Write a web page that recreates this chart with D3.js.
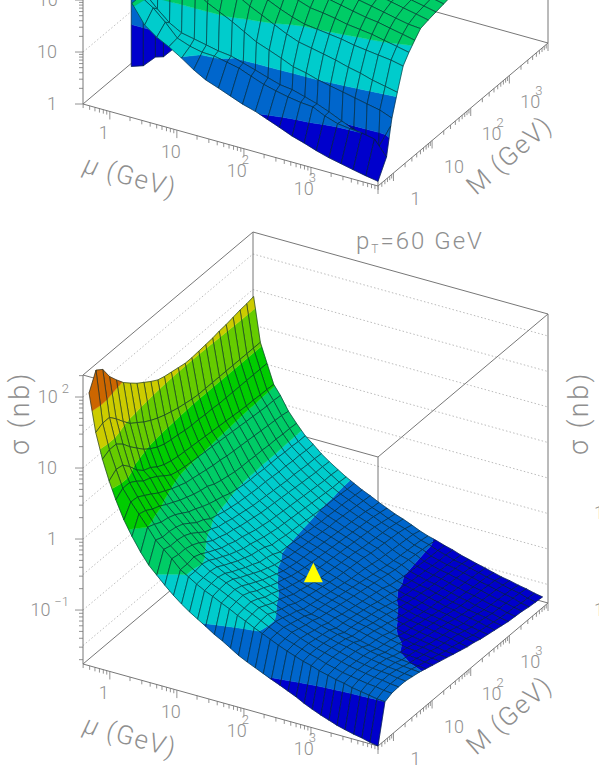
<!DOCTYPE html>
<html>
<head>
<meta charset="utf-8">
<script src="https://cdn.jsdelivr.net/npm/d3@7"></script>
<style>
  html, body { margin: 0; padding: 0; background: #fff; overflow: hidden; }
  text { font-family: Roboto, "Liberation Sans", sans-serif; font-weight: 300; fill: #8f8f8f; }
</style>
</head>
<body>
<div id="viz"></div>
<script>

// band colours, lowest level first
const bandColors = ["#0000cc", "#0066cc", "#00cccc", "#00cc66", "#00cc00", "#66cc00", "#cccc00", "#cc6600"]

// log10 of the axis ranges
const logAxisRange = [-0.4, 4]
const decades = [0, 1, 2, 3]

// lower panel, pT = 60 GeV
const sigmaRange60 = [-1.76, 2.31]
const levels60 = [-1.22, -0.72, -0.21, 0.31, 0.82, 1.33, 1.84]
const dotted60 = [-1.5, -1, -0.5, 0, 0.5, 1, 1.5, 2]
const sigmaExps60 = [-1, 0, 1, 2]
const logMu60 = [-0.31, -0.21, -0.11, -0.01, 0.09, 0.21, 0.33, 0.46, 0.58, 0.70, 0.82, 0.95, 1.07, 1.19, 1.31, 1.43, 1.56, 1.68, 1.80, 1.92, 2.05, 2.17, 2.29, 2.41, 2.54, 2.66, 2.78, 2.90, 3.02, 3.15, 3.27, 3.39, 3.51, 3.64, 3.76, 3.88, 4.0]
const logM60 = [-0.4, -0.22, -0.045, 0.13, 0.31, 0.49, 0.67, 0.84, 1.02, 1.2, 1.38, 1.55, 1.73, 1.91, 2.09, 2.26, 2.44, 2.62, 2.8, 2.97, 3.15, 3.33, 3.51, 3.68, 3.86]
// log10 sigma, one row per M, one column per mu
const logSigma60 = [
  [2.08,1.55,1.20,.92,.68,.43,.23,.04,-.11,-.22,-.33,-.44,-.53,-.61,-.68,-.75,-.83,-.89,-.96,-1.03,-1.09,-1.14,-1.19,-1.24,-1.29,-1.34,-1.39,-1.45,-1.50,-1.55,-1.59,-1.63,-1.66,-1.69,-1.71,-1.74,-1.76],
  [2.32,1.60,1.25,1.00,.76,.60,.46,.31,.16,.06,-.04,-.16,-.23,-.30,-.36,-.41,-.47,-.52,-.58,-.63,-.69,-.74,-.79,-.84,-.89,-.93,-.97,-1.00,-1.04,-1.07,-1.10,-1.12,-1.15,-1.17,-1.19,-1.21,-1.22],
  [2.25,1.60,1.25,.98,.76,.59,.43,.27,.12,.03,-.06,-.16,-.23,-.29,-.34,-.39,-.45,-.50,-.56,-.61,-.67,-.73,-.78,-.83,-.87,-.91,-.95,-.98,-1.02,-1.05,-1.08,-1.10,-1.12,-1.14,-1.15,-1.17,-1.18],
  [2.07,1.50,1.17,.88,.70,.53,.37,.22,.12,.03,-.06,-.14,-.21,-.28,-.33,-.38,-.44,-.49,-.55,-.60,-.66,-.73,-.78,-.82,-.87,-.91,-.95,-.98,-1.01,-1.04,-1.07,-1.09,-1.11,-1.13,-1.14,-1.16,-1.17],
  [1.94,1.38,1.05,.75,.62,.47,.33,.20,.10,.01,-.09,-.18,-.24,-.30,-.36,-.41,-.47,-.53,-.59,-.65,-.71,-.76,-.81,-.85,-.89,-.93,-.96,-.99,-1.02,-1.05,-1.08,-1.10,-1.12,-1.13,-1.14,-1.16,-1.17],
  [1.82,1.27,.95,.66,.58,.40,.27,.16,.06,-.04,-.14,-.24,-.30,-.36,-.42,-.47,-.53,-.59,-.65,-.70,-.75,-.80,-.84,-.88,-.92,-.95,-.98,-1.01,-1.03,-1.06,-1.09,-1.11,-1.13,-1.15,-1.16,-1.18,-1.19],
  [1.73,1.20,.85,.62,.52,.35,.22,.10,-.01,-.11,-.21,-.29,-.35,-.41,-.47,-.52,-.58,-.63,-.68,-.73,-.78,-.83,-.87,-.90,-.94,-.97,-1.00,-1.03,-1.05,-1.08,-1.11,-1.13,-1.15,-1.17,-1.19,-1.20,-1.21],
  [1.65,1.13,.78,.55,.45,.30,.17,.04,-.08,-.18,-.27,-.34,-.40,-.46,-.52,-.57,-.63,-.68,-.72,-.77,-.83,-.88,-.92,-.94,-.98,-1.02,-1.05,-1.07,-1.10,-1.13,-1.15,-1.17,-1.19,-1.21,-1.22,-1.23,-1.24],
  [1.58,1.07,.72,.50,.38,.26,.13,0,-.12,-.22,-.30,-.37,-.44,-.50,-.56,-.62,-.67,-.72,-.77,-.82,-.86,-.90,-.93,-.96,-.99,-1.03,-1.06,-1.08,-1.11,-1.14,-1.17,-1.19,-1.22,-1.23,-1.24,-1.26,-1.27],
  [1.51,1.02,.68,.47,.35,.22,.09,-.05,-.19,-.27,-.34,-.41,-.48,-.54,-.61,-.66,-.71,-.75,-.80,-.84,-.88,-.92,-.95,-.98,-1.02,-1.05,-1.08,-1.10,-1.13,-1.16,-1.19,-1.21,-1.24,-1.25,-1.27,-1.29,-1.30],
  [1.45,.98,.66,.45,.33,.20,.06,-.09,-.22,-.29,-.36,-.43,-.50,-.56,-.63,-.70,-.75,-.79,-.83,-.87,-.90,-.94,-.97,-1.00,-1.04,-1.07,-1.10,-1.13,-1.16,-1.20,-1.22,-1.24,-1.27,-1.28,-1.30,-1.32,-1.33],
  [1.42,.95,.65,.44,.32,.18,.04,-.12,-.25,-.32,-.39,-.46,-.53,-.59,-.66,-.72,-.77,-.81,-.85,-.89,-.92,-.96,-.99,-1.02,-1.06,-1.09,-1.12,-1.15,-1.18,-1.22,-1.25,-1.27,-1.29,-1.31,-1.33,-1.35,-1.36],
  [1.40,.92,.63,.43,.31,.16,-.01,-.15,-.27,-.34,-.41,-.49,-.56,-.64,-.71,-.75,-.79,-.83,-.87,-.91,-.94,-.98,-1.01,-1.04,-1.08,-1.11,-1.14,-1.17,-1.21,-1.24,-1.27,-1.29,-1.31,-1.33,-1.35,-1.37,-1.39],
  [1.38,.90,.62,.42,.30,.14,-.04,-.19,-.29,-.36,-.43,-.51,-.58,-.65,-.72,-.76,-.80,-.84,-.88,-.92,-.96,-1.00,-1.03,-1.06,-1.10,-1.14,-1.17,-1.20,-1.24,-1.27,-1.29,-1.31,-1.33,-1.35,-1.37,-1.40,-1.42],
  [1.36,.88,.62,.41,.29,.13,-.06,-.21,-.30,-.38,-.45,-.53,-.60,-.67,-.73,-.77,-.81,-.85,-.89,-.93,-.97,-1.02,-1.05,-1.08,-1.12,-1.16,-1.20,-1.23,-1.26,-1.29,-1.31,-1.33,-1.35,-1.37,-1.39,-1.42,-1.44],
  [1.36,.87,.61,.40,.28,.11,-.08,-.23,-.31,-.39,-.46,-.54,-.61,-.68,-.74,-.78,-.82,-.86,-.90,-.94,-.98,-1.03,-1.07,-1.10,-1.14,-1.18,-1.23,-1.25,-1.28,-1.31,-1.33,-1.35,-1.37,-1.40,-1.42,-1.45,-1.47],
  [1.37,.87,.61,.39,.27,.10,-.09,-.24,-.32,-.40,-.47,-.55,-.62,-.69,-.75,-.79,-.83,-.87,-.91,-.95,-.99,-1.04,-1.09,-1.12,-1.18,-1.22,-1.25,-1.27,-1.30,-1.33,-1.35,-1.37,-1.40,-1.43,-1.45,-1.47,-1.49],
  [1.38,.87,.60,.38,.26,.09,-.09,-.24,-.32,-.41,-.48,-.56,-.63,-.70,-.76,-.80,-.84,-.88,-.92,-.96,-1.00,-1.06,-1.11,-1.14,-1.20,-1.23,-1.26,-1.28,-1.31,-1.34,-1.37,-1.39,-1.42,-1.44,-1.46,-1.49,-1.51],
  [1.39,.87,.60,.37,.25,.08,-.10,-.25,-.33,-.42,-.49,-.57,-.64,-.71,-.77,-.81,-.85,-.89,-.93,-.98,-1.02,-1.08,-1.13,-1.16,-1.22,-1.25,-1.28,-1.30,-1.33,-1.36,-1.39,-1.41,-1.44,-1.46,-1.48,-1.51,-1.53],
  [1.41,.87,.60,.36,.24,.07,-.10,-.25,-.34,-.43,-.50,-.58,-.65,-.72,-.77,-.81,-.86,-.90,-.94,-.99,-1.03,-1.09,-1.14,-1.17,-1.23,-1.26,-1.29,-1.31,-1.34,-1.37,-1.40,-1.42,-1.45,-1.48,-1.50,-1.53,-1.55],
  [1.42,.87,.60,.35,.23,.06,-.11,-.25,-.34,-.43,-.51,-.59,-.66,-.73,-.78,-.82,-.87,-.91,-.95,-1.00,-1.04,-1.10,-1.15,-1.18,-1.24,-1.27,-1.30,-1.32,-1.35,-1.38,-1.41,-1.43,-1.46,-1.49,-1.51,-1.54,-1.56],
  [1.44,.87,.60,.35,.22,.05,-.11,-.26,-.35,-.44,-.52,-.60,-.67,-.73,-.78,-.83,-.88,-.92,-.96,-1.01,-1.05,-1.11,-1.16,-1.19,-1.25,-1.28,-1.31,-1.33,-1.36,-1.39,-1.42,-1.44,-1.47,-1.50,-1.52,-1.55,-1.57],
  [1.46,.87,.60,.34,.21,.04,-.12,-.26,-.35,-.45,-.53,-.61,-.68,-.74,-.79,-.84,-.89,-.93,-.98,-1.02,-1.06,-1.12,-1.17,-1.20,-1.26,-1.29,-1.32,-1.34,-1.37,-1.40,-1.43,-1.45,-1.48,-1.51,-1.53,-1.57,-1.59],
  [1.47,.87,.60,.34,.21,.03,-.12,-.27,-.36,-.45,-.53,-.61,-.68,-.75,-.80,-.85,-.91,-.95,-1.00,-1.04,-1.08,-1.13,-1.18,-1.21,-1.26,-1.29,-1.33,-1.35,-1.38,-1.41,-1.44,-1.46,-1.49,-1.52,-1.54,-1.58,-1.60],
  [1.49,.87,.60,.33,.20,.01,-.13,-.27,-.36,-.46,-.54,-.62,-.69,-.75,-.81,-.86,-.92,-.97,-1.02,-1.06,-1.11,-1.16,-1.20,-1.23,-1.27,-1.30,-1.34,-1.37,-1.40,-1.43,-1.46,-1.49,-1.51,-1.54,-1.56,-1.59,-1.61]
]

// the yellow marker in the lower panel
const markerLogMu = 2.01
const markerLogM = 1.38
const markerLogSigma = -0.70

// upper panel, only its lower part is on the page
const sigmaRangeTop = [0, 5.56]
const levelsTop = [0.75, 1.42, 2.15, 2.85, 3.55, 4.25, 4.95]
const dottedTop = [1, 2, 3, 4, 5]
const sigmaExpsTop = [0, 1, 2]
const logMuTop = [0.33, 0.52, 0.70, 0.88, 1.07, 1.25, 1.43, 1.62, 1.80, 1.98, 2.17, 2.35, 2.53, 2.72, 2.90, 3.08, 3.27, 3.45, 3.63, 3.82, 4.0]
const logMTop = [-0.4, -0.18, -0.07, -0.04, 0.10, 0.25, 0.40, 0.55, 0.70, 0.90, 1.10, 1.30, 1.50]
const logSigmaTop = [
  [2.20,1.85,1.68,1.56,1.41,1.25,1.12,1.03,.94,.85,.78,.69,.60,.50,.43,.35,.28,.23,.18,.13,.09],
  [2.20,2.04,1.83,1.59,1.50,1.45,1.44,1.39,1.34,1.25,1.16,1.10,1.05,1.01,.99,.88,.80,.77,.75,.70,.42],
  [2.19,1.95,1.75,1.62,1.57,1.52,1.47,1.44,1.37,1.30,1.22,1.15,1.12,1.05,.98,.89,.78,.69,.61,.48,.95],
  [3.19,2.99,2.79,2.62,2.46,2.31,2.20,2.08,1.95,1.82,1.73,1.64,1.54,1.49,1.42,1.37,1.32,1.27,1.22,1.17,1.08],
  [3.60,3.46,3.31,3.15,2.98,2.80,2.63,2.49,2.36,2.25,2.13,2.02,1.93,1.88,1.83,1.78,1.71,1.66,1.59,1.54,1.49],
  [3.70,3.56,3.41,3.27,3.12,2.97,2.83,2.68,2.55,2.45,2.34,2.25,2.18,2.15,2.12,2.09,2.04,2.01,1.98,1.95,1.90],
  [3.74,3.62,3.50,3.38,3.26,3.14,3.02,2.90,2.78,2.67,2.57,2.48,2.40,2.37,2.33,2.28,2.25,2.22,2.17,2.12,2.07],
  [3.85,3.73,3.61,3.49,3.37,3.25,3.13,3.01,2.93,2.82,2.72,2.64,2.57,2.54,2.49,2.44,2.39,2.36,2.31,2.26,2.21],
  [3.95,3.84,3.72,3.60,3.48,3.36,3.25,3.14,3.04,2.95,2.87,2.80,2.73,2.67,2.61,2.56,2.51,2.46,2.41,2.36,2.34],
  [4.05,3.94,3.82,3.70,3.58,3.46,3.35,3.24,3.14,3.05,2.97,2.88,2.80,2.74,2.68,2.63,2.58,2.53,2.48,2.43,2.38],
  [4.10,4.00,3.90,3.78,3.66,3.54,3.43,3.32,3.22,3.13,3.05,2.96,2.88,2.80,2.74,2.68,2.61,2.56,2.51,2.46,2.41],
  [4.15,4.05,3.95,3.83,3.71,3.59,3.48,3.37,3.27,3.18,3.10,3.01,2.93,2.85,2.78,2.71,2.65,2.59,2.54,2.49,2.44],
  [4.20,4.10,4.00,3.88,3.76,3.64,3.53,3.42,3.32,3.23,3.15,3.06,2.98,2.90,2.83,2.76,2.69,2.62,2.57,2.52,2.47]
]
// the steep sheet at low mu in the upper panel
const wallLogMu = [-0.4, -0.22, -0.04, 0.08, 0.21]
const wallLogM = 0.85
const wallLow = [-0.06, 0.02, 0.25, 0.30, 0.48]
const wallHigh = [3, 3, 3, 3, 3]

const width = 599
const height = 776

const svg = d3.select("#viz").append("svg")
  .attr("width", width)
  .attr("height", height)
  .style("display", "block")
  .style("background-color", "#fff")

// floor of the box: x and y move with both log axes
const xMu = d3.scaleLinear().domain(logAxisRange).range([83, 378])
const xM = d3.scaleLinear().domain(logAxisRange).range([0, 170])
const yMu = d3.scaleLinear().domain(logAxisRange).range([664, 746])
const yM = d3.scaleLinear().domain(logAxisRange).range([0, -143])

function clipBand(poly, lo, hi) {
  const cut = (pts, keep, edge) => {
    const out = []
    pts.forEach((p, i) => {
      const q = pts[(i + 1) % pts.length]
      const a = keep(p[2]), b = keep(q[2])
      if (a) out.push(p)
      if (a !== b) {
        const f = (edge - p[2]) / (q[2] - p[2])
        out.push([p[0] + f * (q[0] - p[0]), p[1] + f * (q[1] - p[1]), edge])
      }
    })
    return out
  }
  let pts = poly
  if (lo > -Infinity) pts = cut(pts, z => z >= lo, lo)
  if (pts.length && hi < Infinity) pts = cut(pts, z => z <= hi, hi)
  return pts
}

function drawPanel(g, opt) {
  const zPx = d3.scaleLinear().domain(opt.sigmaRange).range([0, 289])
  const zMin = opt.sigmaRange[0], zMax = opt.sigmaRange[1]
  const line = d3.line()
  const px = d => [xMu(d[0]) + xM(d[1]), yMu(d[0]) + yM(d[1]) - zPx(d[2])]
  const [aMin, aMax] = logAxisRange

  // walls, dotted first
  opt.dotted.forEach(z => {
    g.append("path")
      .attr("d", line([[aMin, aMin, z], [aMin, aMax, z], [aMax, aMax, z]].map(px)))
      .attr("fill", "none")
      .attr("stroke", "#aaa")
      .attr("stroke-width", 0.8)
      .attr("stroke-dasharray", "1.5 2.2")
  })

  const edges = [
    [[aMin, aMin, zMin], [aMin, aMax, zMin]],
    [[aMin, aMax, zMin], [aMax, aMax, zMin]],
    [[aMin, aMax, zMin], [aMin, aMax, zMax]],
    [[aMax, aMax, zMin], [aMax, aMax, zMax]],
    [[aMax, aMin, zMin], [aMax, aMin, zMax]],
    [[aMin, aMin, zMax], [aMin, aMax, zMax]],
    [[aMin, aMax, zMax], [aMax, aMax, zMax]],
    [[aMax, aMax, zMax], [aMax, aMin, zMax]],
    [[aMax, aMin, zMax], [aMin, aMin, zMax]],
    [[aMin, aMin, zMin], [aMin, aMin, zMax]],
    [[aMin, aMin, zMin], [aMax, aMin, zMin]],
    [[aMax, aMin, zMin], [aMax, aMax, zMin]]
  ]
  g.selectAll("path.edge")
    .data(edges)
    .enter()
    .append("path")
    .attr("class", "edge")
    .attr("d", d => line(d.map(px)))
    .attr("fill", "none")
    .attr("stroke", "#777")
    .attr("stroke-width", 1)

  // log ticks on the three axes
  const minors = [2, 3, 4, 5, 6, 7, 8, 9]
  const ticksOf = (from, to) => {
    const out = []
    d3.range(Math.floor(from), Math.ceil(to)).forEach(e => {
      out.push({ v: e, major: true })
      minors.forEach(m => out.push({ v: e + Math.log10(m), major: false }))
    })
    out.push({ v: Math.ceil(to), major: true })
    return out.filter(t => t.v >= from - 0.001 && t.v <= to + 0.001)
  }
  ticksOf(aMin, aMax).forEach(t => {
    const x1 = xMu(t.v), y1 = yMu(t.v)
    g.append("line").attr("x1", x1).attr("x2", x1).attr("y1", y1).attr("y2", y1 + (t.major ? 8 : 4))
      .attr("stroke", "#777").attr("stroke-width", 0.8)
    const x2 = xMu(aMax) + xM(t.v), y2 = yMu(aMax) + yM(t.v)
    g.append("line").attr("x1", x2).attr("x2", x2).attr("y1", y2).attr("y2", y2 + (t.major ? 8 : 4))
      .attr("stroke", "#777").attr("stroke-width", 0.8)
  })
  ticksOf(zMin, zMax).forEach(t => {
    const y = yMu(aMin) - zPx(t.v)
    g.append("line").attr("x1", xMu(aMin)).attr("x2", xMu(aMin) - (t.major ? 8 : 4)).attr("y1", y).attr("y2", y)
      .attr("stroke", "#777").attr("stroke-width", 0.8)
  })

  // the surface, far cells first
  const bands = bandColors.map((c, k) => ({
    color: c,
    lo: k === 0 ? -Infinity : opt.levels[k - 1],
    hi: k === opt.levels.length ? Infinity : opt.levels[k]
  }))
  const drawCell = quad => {
    bands.forEach(b => {
      const pts = clipBand(quad, b.lo, b.hi)
      if (pts.length < 3) return
      g.append("path")
        .attr("d", line(pts.map(px)) + "Z")
        .attr("fill", b.color)
        .attr("stroke", b.color)
        .attr("stroke-width", 0.4)
    })
    g.append("path")
      .attr("d", line(quad.map(px)) + "Z")
      .attr("fill", "none")
      .attr("stroke", "#03242a")
      .attr("stroke-width", 0.6)
  }

  if (opt.wall) {
    d3.range(opt.wall.mu.length - 1).forEach(i => {
      const m = opt.wall.m
      drawCell([
        [opt.wall.mu[i], m, opt.wall.low[i]],
        [opt.wall.mu[i + 1], m, opt.wall.low[i + 1]],
        [opt.wall.mu[i + 1], m, opt.wall.high[i + 1]],
        [opt.wall.mu[i], m, opt.wall.high[i]]
      ])
    })
  }

  for (let j = opt.logM.length - 2; j >= 0; j--) {
    for (let i = 0; i < opt.logMu.length - 1; i++) {
      drawCell([
        [opt.logMu[i], opt.logM[j], opt.table[j][i]],
        [opt.logMu[i + 1], opt.logM[j], opt.table[j][i + 1]],
        [opt.logMu[i + 1], opt.logM[j + 1], opt.table[j + 1][i + 1]],
        [opt.logMu[i], opt.logM[j + 1], opt.table[j + 1][i]]
      ])
    }
  }

  // tick labels
  const tens = (x, y, e, anchor, expDx, expDy) => {
    const t = g.append("text").attr("x", x).attr("y", y).attr("text-anchor", anchor).style("font-size", "18px")
    if (e === 0) { t.text("1"); return }
    t.append("tspan").text("10")
    if (e !== 1) {
      t.append("tspan").attr("dx", expDx).attr("dy", expDy).style("font-size", "13px")
        .text(e < 0 ? "\u2212" + (-e) : e)
    }
  }
  decades.forEach(e => {
    tens(xMu(e) - 6, yMu(e) + 28, e, "middle", -5, -13)
    tens(xMu(aMax) + xM(e) + 22, yMu(aMax) + yM(e) + 32, e, "middle", -5, -13)
  })
  opt.sigmaExps.forEach(e => {
    const y = yMu(aMin) - zPx(e) + 6
    tens(e === 0 || e === 1 ? 57 : 69, y, e, "end", 4, -10)
  })

  // axis titles
  g.append("text")
    .attr("transform", "translate(128,745) rotate(15.5)")
    .attr("text-anchor", "middle")
    .style("font-size", "26px")
    .style("letter-spacing", "1.5px")
    .html('<tspan font-style="italic">\u03bc</tspan> (GeV)')
  g.append("text")
    .attr("transform", "translate(515,722) rotate(-41)")
    .attr("text-anchor", "middle")
    .style("font-size", "26px")
    .style("letter-spacing", "1.5px")
    .text("M (GeV)")
  return px
}

const topGroup = svg.append("g").attr("transform", "translate(0,-560)")
drawPanel(topGroup, {
  sigmaRange: sigmaRangeTop,
  levels: levelsTop,
  dotted: dottedTop,
  sigmaExps: sigmaExpsTop,
  logMu: logMuTop,
  logM: logMTop,
  table: logSigmaTop,
  wall: { mu: wallLogMu, m: wallLogM, low: wallLow, high: wallHigh }
})

const lowGroup = svg.append("g")
const project = drawPanel(lowGroup, {
  sigmaRange: sigmaRange60,
  levels: levels60,
  dotted: dotted60,
  sigmaExps: sigmaExps60,
  logMu: logMu60,
  logM: logM60,
  table: logSigma60
})

// yellow marker
const mark = project([markerLogMu, markerLogM, markerLogSigma])
lowGroup.append("path")
  .attr("d", d3.symbol(d3.symbolTriangle, 156)())
  .attr("transform", `translate(${mark[0]},${mark[1]}) scale(1,1.19)`)
  .attr("fill", "#ffff00")

// sigma titles, the second one belongs to the panel next to this one
const sigmaTitle = x => svg.append("text")
  .attr("transform", `translate(${x},413) rotate(-90)`)
  .attr("text-anchor", "middle")
  .style("font-size", "27px")
  .style("letter-spacing", "2.5px")
  .text("\u03c3 (nb)")
sigmaTitle(29)
sigmaTitle(588)

// panel title
const title = svg.append("text").attr("x", 356).attr("y", 249).style("font-size", "24px").style("letter-spacing", "2px")
title.append("tspan").text("p")
title.append("tspan").attr("dy", 4).style("font-size", "12px").text("T")
title.append("tspan").attr("dy", -4).text("=60 GeV")

// tick labels of the neighbouring panel, cut by the page edge
svg.selectAll("text.next")
  .data(sigmaExps60.slice(0, 2))
  .enter()
  .append("text")
  .attr("class", "next")
  .attr("x", 594)
  .attr("y", (d, i) => 616 - i * 97)
  .style("font-size", "18px")
  .text("10")

</script>
</body>
</html>
